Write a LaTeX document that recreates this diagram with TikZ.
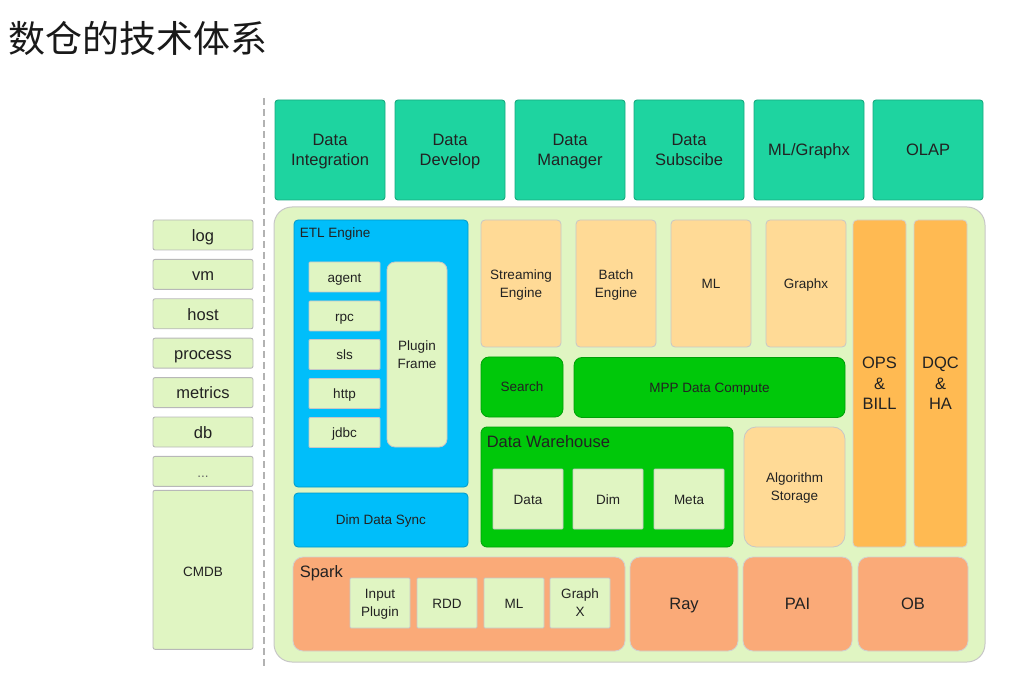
\documentclass[tikz,border=0pt]{standalone}
\usepackage{fontspec}
\setmainfont{Liberation Sans}
\newfontfamily\cjkfont{Noto Sans CJK SC}
\usepackage{xcolor}
\usepackage{tikz}
\usetikzlibrary{positioning}
\definecolor{inkdark}{RGB}{34,34,34}
\definecolor{appteal}{RGB}{30,212,160}
\definecolor{paleleaf}{RGB}{224,245,194}
\definecolor{skyblue}{RGB}{0,190,250}
\definecolor{sandorange}{RGB}{255,218,150}
\definecolor{deeporange}{RGB}{255,186,82}
\definecolor{brightgreen}{RGB}{0,200,10}
\definecolor{salmon}{RGB}{250,170,120}
\newcommand{\bigtext}{\fontsize{16.5}{20.5}\selectfont}
\newcommand{\smalltext}{\fontsize{13.5}{18}\selectfont}
\tikzstyle{app} = [rectangle, rounded corners=3pt, minimum width=110pt, minimum height=100pt, align=center, text depth=0pt, draw=appteal!80!black, line width=0.9pt, fill=appteal, text=inkdark, font=\bigtext]
\tikzstyle{leaf} = [rectangle, rounded corners=2pt, minimum width=100pt, minimum height=30pt, draw=black!28, line width=0.9pt, fill=paleleaf, text=inkdark, font=\bigtext, text height=15.5pt, text depth=3pt]
\tikzstyle{slot} = [rectangle, rounded corners=1pt, minimum width=71pt, minimum height=30pt, draw=black!22, line width=0.8pt, fill=paleleaf, text=inkdark, font=\smalltext, text height=12.5pt, text depth=2.4pt]
\tikzstyle{engine} = [rectangle, rounded corners=4pt, minimum width=80pt, minimum height=127pt, align=center, text depth=0pt, draw=black!22, line width=0.8pt, fill=sandorange, text=inkdark, font=\smalltext]
\tikzstyle{pillar} = [rectangle, rounded corners=4pt, minimum width=53pt, minimum height=327pt, align=center, draw=black!18, line width=0.8pt, fill=deeporange, text=inkdark, font=\bigtext]
\tikzstyle{compute} = [rectangle, rounded corners=8pt, minimum height=60pt, align=center, text depth=0pt, draw=brightgreen!80!black, line width=0.8pt, fill=brightgreen, text=inkdark, font=\smalltext]
\tikzstyle{etl} = [rectangle, rounded corners=4pt, minimum width=174pt, align=center, text depth=0pt, draw=skyblue!80!black, line width=0.8pt, fill=skyblue, text=inkdark, font=\smalltext]
\tikzstyle{runtime} = [rectangle, rounded corners=10pt, minimum height=94pt, align=center, text depth=0pt, draw=black!18, line width=0.8pt, fill=salmon, text=inkdark, font=\bigtext]

\begin{document}
\begin{tikzpicture}[x=1pt, y=-1pt]
\useasboundingbox (0,0) rectangle (1009,684);

% ===== TITLE =====
\node (title) [anchor=west, inner sep=0pt, text=black!90, font=\cjkfont\fontsize{37}{40}\selectfont] at (8,38) {数仓的技术体系};

% ===== SEPARATOR =====
\coordinate (sepTop) at (264,98);
\coordinate (sepBot) at (264,668);
\draw [black!30, line width=1.6pt, dash pattern=on 7pt off 4pt] (sepTop) -- (sepBot);

% ===== APPLICATIONS (TOP) =====
\node (integration) [app] at (330,150) {Data\\Integration};
\node (develop) [app] at (450,150) {Data\\Develop};
\node (manager) [app] at (570,150) {Data\\Manager};
\node (subscribe) [app] at (689,150) {Data\\Subscibe};
\node (graphx_app) [app] at (809,150) {ML/Graphx};
\node (olap) [app] at (928,150) {OLAP};

% ===== SOURCES (LEFT) =====
\node (log) [leaf] at (203,235) {log};
\node (vm) [leaf, below=8.5pt of log] {vm};
\node (host) [leaf, below=8.5pt of vm] {host};
\node (process) [leaf, below=8.5pt of host] {process};
\node (metrics) [leaf, below=8.5pt of process] {metrics};
\node (db) [leaf, below=8.5pt of metrics] {db};
\node (more) [leaf, below=8.5pt of db, font=\smalltext, text=black!60] {...};
\node (cmdb) [leaf, below=3pt of more, minimum height=159pt, font=\smalltext] {CMDB};

% ===== PLATFORM =====
\node (core) [rectangle, rounded corners=18pt, minimum width=711pt, minimum height=455pt, draw=black!22, line width=1pt, fill=paleleaf] at (629.5,434.5) {};

% ETL engine
\node (etl) [etl, minimum height=267pt] at (381,353.5) {};
\node (etl_title) [anchor=north west, inner sep=0pt, text=inkdark, font=\smalltext] at ([xshift=6pt, yshift=-8pt]etl.north west) {ETL Engine};
\node (agent) [slot] at (344.5,277) {agent};
\node (rpc) [slot] at (344.5,316) {rpc};
\node (sls) [slot] at (344.5,354.5) {sls};
\node (http) [slot] at (344.5,393.5) {http};
\node (jdbc) [slot] at (344.5,432.5) {jdbc};
\node (plugin) [slot, align=center, text height={}, text depth=0pt, rounded corners=8pt, minimum width=60pt, minimum height=185pt] at (417,354.5) {Plugin\\Frame};
\node (dimsync) [etl, minimum height=54pt] at (381,520) {Dim Data Sync};

% engines
\node (streaming) [engine] at (521,283.5) {Streaming\\Engine};
\node (batch) [engine] at (616,283.5) {Batch\\Engine};
\node (ml_engine) [engine] at (711,283.5) {ML};
\node (graphx) [engine] at (806,283.5) {Graphx};

% compute
\node (search) [compute, minimum width=82pt] at (522,387) {Search};
\node (mpp) [compute, minimum width=271pt] at (709.5,387.5) {MPP Data Compute};

% warehouse
\node (dw) [compute, rounded corners=6pt, minimum width=252pt, minimum height=120pt] at (607,487) {};
\node (dw_title) [anchor=north west, inner sep=0pt, text=inkdark, font=\bigtext] at ([xshift=6pt, yshift=-9pt]dw.north west) {Data Warehouse};
\node (dw_data) [slot, minimum width=70pt, minimum height=60pt] at (528,499) {Data};
\node (dw_dim) [slot, minimum width=70pt, minimum height=60pt] at (608,499) {Dim};
\node (dw_meta) [slot, minimum width=70pt, minimum height=60pt] at (689,499) {Meta};
\node (algo) [engine, rounded corners=12pt, minimum width=101pt, minimum height=120pt] at (794.5,487) {Algorithm\\Storage};

% ops and quality
\node (ops) [pillar] at (879.5,383.5) {OPS\\\&\\BILL};
\node (dqc) [pillar] at (940.5,383.5) {DQC\\\&\\HA};

% ===== RUNTIMES (BOTTOM) =====
\node (spark) [runtime, minimum width=332pt] at (459,604) {};
\node (spark_title) [anchor=north west, inner sep=0pt, text=inkdark, font=\bigtext] at ([xshift=7pt, yshift=-9pt]spark.north west) {Spark};
\node (input) [slot, align=center, text height={}, text depth=0pt, minimum width=60pt, minimum height=50pt] at (380,603) {Input\\Plugin};
\node (rdd) [slot, minimum width=60pt, minimum height=50pt] at (447,603) {RDD};
\node (ml_spark) [slot, minimum width=60pt, minimum height=50pt] at (514,603) {ML};
\node (graph_spark) [slot, align=center, text height={}, text depth=0pt, minimum width=60pt, minimum height=50pt] at (580,603) {Graph\\X};
\node (ray) [runtime, minimum width=108pt] at (684,604) {Ray};
\node (pai) [runtime, minimum width=109pt] at (797.5,604) {PAI};
\node (ob) [runtime, minimum width=110pt] at (913,604) {OB};

\end{tikzpicture}
\end{document}
